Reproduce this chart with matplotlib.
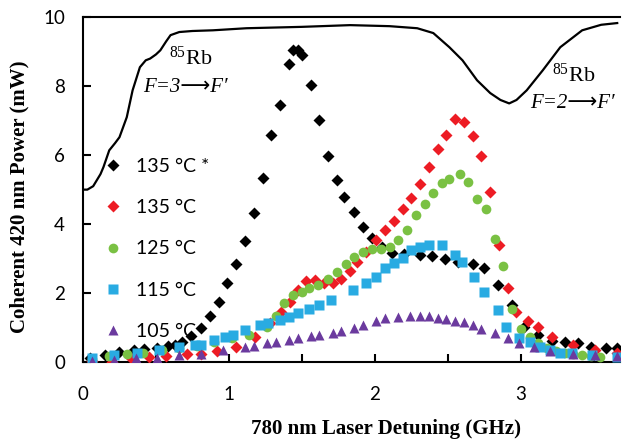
import matplotlib
matplotlib.use('Agg')
import matplotlib.pyplot as plt
from matplotlib.ticker import MultipleLocator, FuncFormatter

plt.rcParams['mathtext.fontset'] = 'custom'
plt.rcParams['mathtext.rm'] = 'Liberation Serif'
plt.rcParams['mathtext.it'] = 'Liberation Serif:italic'

# absorption spectrum (scaled to the power axis)
spec_x = [0.0, 0.03, 0.07, 0.12, 0.14, 0.18, 0.22, 0.25, 0.30, 0.34, 0.39, 0.43, 0.46, 0.50,
          0.53, 0.57, 0.60, 0.66, 0.75, 0.89, 1.12, 1.50, 1.83, 2.10, 2.29, 2.40, 2.51, 2.60,
          2.70, 2.79, 2.86, 2.92, 2.97, 3.04, 3.15, 3.27, 3.42, 3.55, 3.66]
spec_y = [5.0, 5.0, 5.1, 5.45, 5.65, 6.14, 6.35, 6.52, 7.1, 7.88, 8.55, 8.75, 8.8, 8.92,
          9.04, 9.3, 9.48, 9.57, 9.6, 9.62, 9.68, 9.72, 9.77, 9.74, 9.68, 9.54, 9.13, 8.75,
          8.17, 7.8, 7.6, 7.5, 7.6, 7.88, 8.46, 9.13, 9.62, 9.78, 9.83]

# 135 C * (black)
t135s_x = [0.05, 0.15, 0.25, 0.35, 0.42, 0.51, 0.58, 0.63, 0.68, 0.74, 0.81, 0.87, 0.93, 0.99,
           1.05, 1.11, 1.17, 1.23, 1.29, 1.35, 1.41, 1.44, 1.47, 1.50, 1.56, 1.62, 1.68, 1.74,
           1.79, 1.86, 1.92, 1.98, 2.05, 2.12, 2.20, 2.31, 2.39, 2.48, 2.57, 2.67, 2.75, 2.84,
           2.94, 3.02, 3.12, 3.21, 3.30, 3.39, 3.48, 3.58, 3.66]
t135s_y = [0.12, 0.2, 0.3, 0.35, 0.38, 0.42, 0.46, 0.5, 0.58, 0.75, 0.98, 1.35, 1.75, 2.29,
           2.84, 3.5, 4.33, 5.35, 6.58, 7.45, 8.63, 9.05, 9.05, 8.9, 8.03, 7.01, 5.98, 5.28,
           4.79, 4.36, 3.92, 3.6, 3.35, 3.17, 3.12, 3.1, 3.08, 3.0, 2.91, 2.84, 2.72, 2.23,
           1.65, 1.02, 0.78, 0.6, 0.59, 0.54, 0.44, 0.40, 0.40]

# 135 C (red)
t135_x = [0.06, 0.2, 0.33, 0.45, 0.57, 0.71, 0.81, 0.92, 1.05, 1.18, 1.28, 1.36, 1.42, 1.47,
          1.53, 1.59, 1.65, 1.71, 1.77, 1.83, 1.88, 1.94, 2.01, 2.07, 2.13, 2.19, 2.25, 2.31,
          2.37, 2.43, 2.49, 2.55, 2.61, 2.67, 2.73, 2.79, 2.85, 2.91, 2.97, 3.05, 3.12, 3.21,
          3.36, 3.51, 3.66]
t135_y = [0.02, 0.0, 0.12, 0.15, 0.17, 0.22, 0.22, 0.33, 0.44, 0.72, 1.12, 1.45, 1.75, 2.1,
          2.36, 2.38, 2.3, 2.28, 2.42, 2.65, 2.9, 3.2, 3.54, 3.83, 4.1, 4.45, 4.77, 5.16,
          5.66, 6.17, 6.58, 7.04, 6.97, 6.56, 5.98, 4.92, 3.39, 2.14, 1.46, 1.2, 1.01, 0.73,
          0.49, 0.35, 0.26]

# 125 C (green)
t125_x = [0.06, 0.18, 0.30, 0.41, 0.54, 0.66, 0.78, 0.90, 1.02, 1.14, 1.26, 1.32, 1.38, 1.44,
          1.50, 1.55, 1.61, 1.68, 1.74, 1.80, 1.86, 1.92, 1.98, 2.04, 2.10, 2.16, 2.22, 2.28,
          2.34, 2.40, 2.46, 2.51, 2.58, 2.64, 2.70, 2.76, 2.82, 2.88, 2.94, 3.00, 3.06, 3.12,
          3.18, 3.24, 3.30, 3.36, 3.42, 3.48, 3.54]
t125_y = [0.08, 0.17, 0.23, 0.27, 0.35, 0.4, 0.48, 0.58, 0.69, 0.78, 1.02, 1.35, 1.7, 1.94,
          2.04, 2.14, 2.23, 2.42, 2.62, 2.85, 3.05, 3.2, 3.29, 3.29, 3.34, 3.54, 3.83, 4.26,
          4.58, 4.89, 5.18, 5.32, 5.46, 5.23, 4.74, 4.45, 3.56, 2.78, 1.55, 0.97, 0.73, 0.55,
          0.42, 0.33, 0.27, 0.22, 0.2, 0.17, 0.15]

# 115 C (blue)
t115_x = [0.06, 0.21, 0.37, 0.52, 0.66, 0.77, 0.81, 0.90, 0.97, 1.03, 1.11, 1.21, 1.27, 1.35,
          1.41, 1.47, 1.55, 1.62, 1.70, 1.85, 1.94, 2.01, 2.07, 2.13, 2.19, 2.25, 2.31, 2.37,
          2.46, 2.55, 2.60, 2.68, 2.75, 2.84, 2.90, 2.99, 3.06, 3.13, 3.20, 3.27, 3.35, 3.49,
          3.66]
t115_y = [0.13, 0.2, 0.25, 0.35, 0.43, 0.49, 0.49, 0.64, 0.73, 0.78, 0.93, 1.07, 1.12, 1.22,
          1.31, 1.41, 1.55, 1.65, 1.8, 2.09, 2.28, 2.47, 2.72, 2.86, 3.03, 3.25, 3.34, 3.39,
          3.39, 3.1, 2.91, 2.47, 2.04, 1.51, 1.02, 0.69, 0.59, 0.44, 0.35, 0.27, 0.25, 0.2,
          0.15]

# 105 C (purple)
t105_x = [0.06, 0.21, 0.36, 0.51, 0.66, 0.81, 0.96, 1.11, 1.17, 1.26, 1.32, 1.41, 1.47, 1.56,
          1.62, 1.71, 1.77, 1.86, 1.92, 2.01, 2.07, 2.16, 2.24, 2.31, 2.37, 2.43, 2.49, 2.55,
          2.61, 2.67, 2.73, 2.82, 2.91, 2.99, 3.09, 3.20, 3.36, 3.51, 3.66]
t105_y = [0.04, 0.07, 0.12, 0.13, 0.2, 0.23, 0.35, 0.43, 0.46, 0.54, 0.57, 0.64, 0.69, 0.75,
          0.78, 0.83, 0.9, 1.0, 1.07, 1.2, 1.27, 1.31, 1.33, 1.33, 1.33, 1.29, 1.26, 1.2,
          1.17, 1.07, 0.96, 0.83, 0.69, 0.54, 0.43, 0.33, 0.23, 0.2, 0.17]

labels = ['135 °C *', '135 °C', '125 °C', '115 °C', '105 °C']

fig = plt.figure(figsize=(6.22, 4.41), dpi=100)
ax = fig.add_axes([0.1334, 0.179, 0.8636, 0.782])

ax.plot(spec_x, spec_y, color='black', lw=1.6, zorder=1)

ax.plot(t135s_x, t135s_y, 'D', color='black', ms=6.5, mec='none', label=labels[0], zorder=2)
ax.plot(t135_x, t135_y, 'D', color='#ED1C24', ms=6.5, mec='none', label=labels[1], zorder=3)
ax.plot(t125_x, t125_y, 'o', color='#7AC143', ms=7, mec='none', label=labels[2], zorder=4)
ax.plot(t115_x, t115_y, 's', color='#29ABE2', ms=6.5, mec='none', label=labels[3], zorder=5)
ax.plot(t105_x, t105_y, '^', color='#6B3A9E', ms=7.5, mec='none', label=labels[4], zorder=6)

ax.set_xlim(0, 3.68)
ax.set_ylim(0, 10)
ax.xaxis.set_major_locator(MultipleLocator(0.5))
ax.xaxis.set_major_formatter(FuncFormatter(lambda v, p: '%d' % v if abs(v - round(v)) < 1e-6 else ''))
ax.yaxis.set_major_locator(MultipleLocator(2))
ax.tick_params(direction='in', length=6, width=1.5, labelsize=13.5)
ax.tick_params(axis='x', pad=17)
ax.tick_params(axis='y', pad=13)
for lab in ax.get_xticklabels() + ax.get_yticklabels():
    lab.set_family('Lato')
ax.spines['right'].set_visible(False)
for s in ['left', 'bottom', 'top']:
    ax.spines[s].set_linewidth(1.5)

ax.set_xlabel('780 nm Laser Detuning (GHz)', family='Liberation Serif', fontweight='bold',
              fontsize=15)
ax.xaxis.set_label_coords(0.565, -0.165)
ax.set_ylabel('Coherent 420 nm Power (mW)', family='Liberation Serif', fontweight='bold',
              fontsize=15)
ax.yaxis.set_label_coords(-0.1, 0.48)

serif = ['Liberation Serif', 'DejaVu Sans']
ax.text(0.74, 8.8, r'$^{85}$Rb', family='Liberation Serif', fontsize=16, ha='center', va='center')
ax.text(0.70, 7.95, "F=3⟶F′", family=serif, style='italic', fontsize=15,
        ha='center', va='center')
ax.text(3.36, 8.32, r'$^{85}$Rb', family='Liberation Serif', fontsize=16, ha='center', va='center')
ax.text(3.35, 7.5, "F=2⟶F′", family=serif, style='italic', fontsize=15,
        ha='center', va='center')

leg = ax.legend(loc='upper left', bbox_to_anchor=(0.02, 0.615), frameon=False,
                prop={'family': 'Lato', 'size': 14}, labelspacing=1.25,
                handletextpad=0.6, borderaxespad=0, handlelength=1.2)

fig.savefig('out.png', dpi=100)
